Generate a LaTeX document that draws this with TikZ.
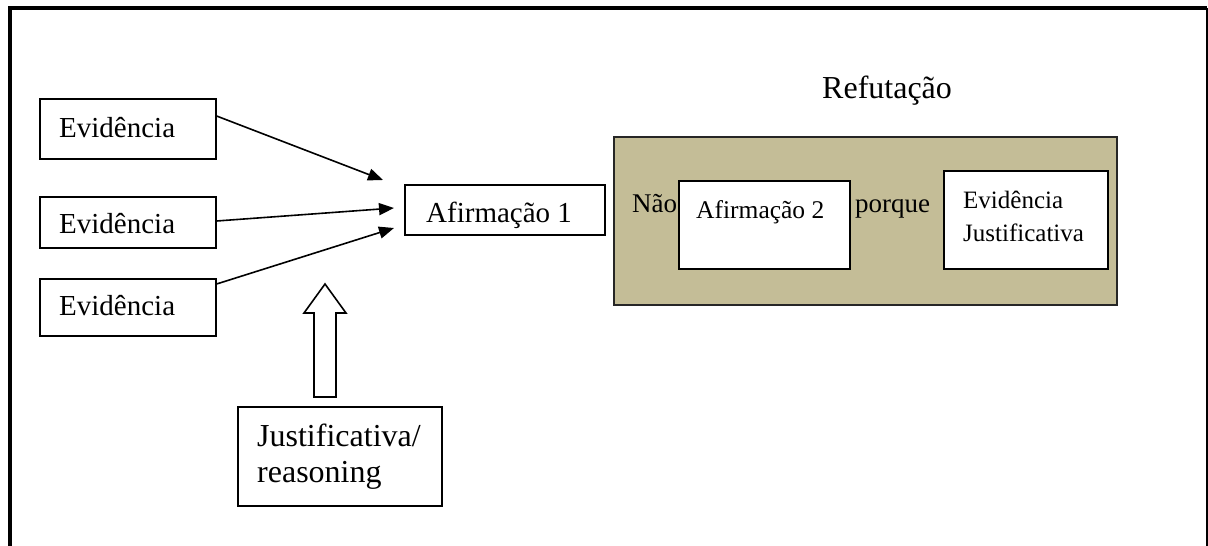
\documentclass[tikz,border=0pt]{standalone}
\usepackage{fontspec}
\setmainfont{Liberation Serif}
\usetikzlibrary{arrows.meta}
\definecolor{tan}{HTML}{C4BD97}
\tikzset{
  box/.style={draw=black, line width=1.6pt, fill=white, inner sep=0pt, anchor=north west},
  lbl/.style={anchor=base west, inner sep=0pt},
  conn/.style={line width=1.6pt, -{Triangle[length=15pt,width=12pt]}},
}
\begin{document}
\begin{tikzpicture}[x=1pt,y=-1pt]
\useasboundingbox (0,0) rectangle (1208,546);
% frame
\draw[line width=4pt] (10,546) -- (10,8) -- (1207,8);
\draw[line width=2pt] (1207,8) -- (1207,546);

% evidence boxes
\node[box, minimum width=176pt, minimum height=60pt] (e1) at (39,98) {};
\node[box, minimum width=176pt, minimum height=51pt] (e2) at (39,196) {};
\node[box, minimum width=176pt, minimum height=57pt] (e3) at (39,278) {};
\node[lbl, font=\fontsize{29}{34}\selectfont] (t1) at (59,137) {Evidência};
\node[lbl, font=\fontsize{29}{34}\selectfont] (t2) at (59,233) {Evidência};
\node[lbl, font=\fontsize{29}{34}\selectfont] (t3) at (59,315) {Evidência};

% claim 1
\node[box, minimum width=200pt, minimum height=50pt] (a1) at (404,184) {};
\node[lbl, font=\fontsize{29}{34}\selectfont] (ta1) at (426,222) {Afirmação 1};

% arrows
\coordinate (p1) at (383,180);
\coordinate (p2) at (394,208);
\coordinate (p3) at (394,228);
\draw[conn] (e1.east |- 0,116) -- (p1);
\draw[conn] (e2.east |- 0,221) -- (p2);
\draw[conn] (e3.east |- 0,284) -- (p3);

% hollow arrow
\draw[line width=1.6pt, fill=white, line join=miter]
  (314,397) -- (314,313) -- (304,313) -- (325,284) -- (346,313) -- (336,313) -- (336,397) -- cycle;

% justification
\node[box, minimum width=204pt, minimum height=99pt] (j) at (237,406) {};
\node[lbl, font=\fontsize{32}{36}\selectfont] (tj1) at (257,446) {Justificativa/};
\node[lbl, font=\fontsize{32}{36}\selectfont] (tj2) at (257,482) {reasoning};

% refutation
\node[lbl, font=\fontsize{32}{36}\selectfont] (tr) at (822,98) {Refutação};
\node[box, fill=tan, draw=black!85, minimum width=503pt, minimum height=168pt] (r) at (613,136) {};
\node[box, minimum width=171pt, minimum height=88pt] (a2) at (678,180) {};
\node[box, minimum width=164pt, minimum height=98pt] (ej) at (943,170) {};
\node[lbl, font=\fontsize{27}{32}\selectfont] (tn) at (632,212) {Não};
\node[lbl, font=\fontsize{27}{32}\selectfont] (tp) at (855,212) {porque};
\node[lbl, font=\fontsize{25.5}{30}\selectfont] (ta2) at (696,218) {Afirmação 2};
\node[lbl, font=\fontsize{25}{30}\selectfont] (te1) at (963,208) {Evidência};
\node[lbl, font=\fontsize{25}{30}\selectfont] (te2) at (963,241) {Justificativa};
\end{tikzpicture}
\end{document}
